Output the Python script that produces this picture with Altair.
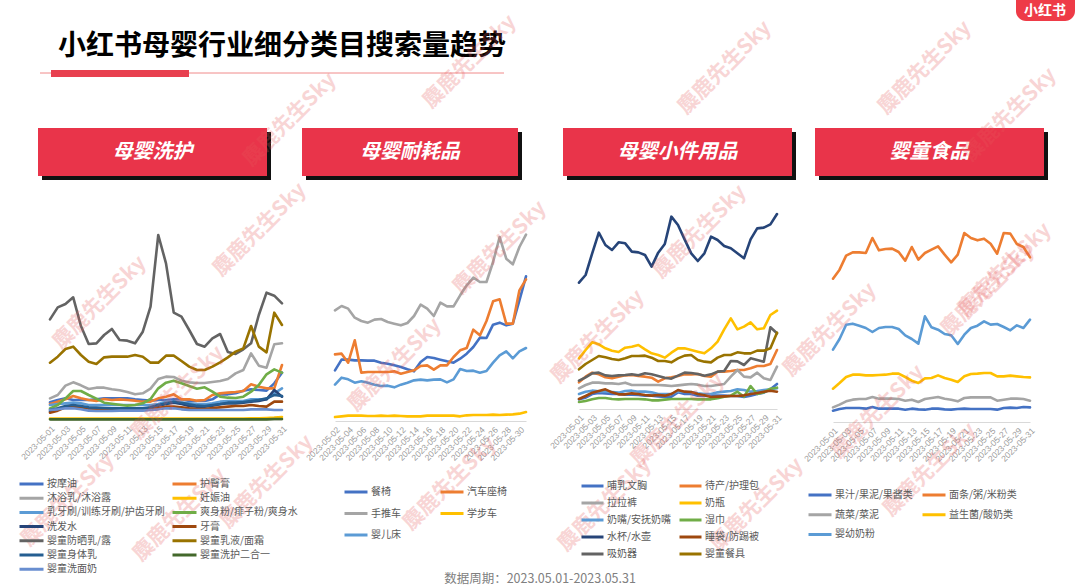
import altair as alt
import pandas as pd

# ---------------- data ----------------
days_all = [f"2023-05-{d:02d}" for d in range(1, 32)]
days_p2 = days_all[1:]
odd_labels = [f"2023-05-{d:02d}" for d in range(1, 32, 2)]
even_labels = [f"2023-05-{d:02d}" for d in range(2, 31, 2)]

# Panel 1: 母婴洗护
p1_names = ["按摩油", "护臀膏", "沐浴乳/沐浴露", "妊娠油", "乳牙刷/训练牙刷/护齿牙刷", "爽身粉/痱子粉/爽身水",
            "洗发水", "牙膏", "婴童防晒乳/露", "婴童乳液/面霜", "婴童身体乳", "婴童洗护二合一", "婴童洗面奶"]
p1_colors = ["#4472C4", "#ED7D31", "#A5A5A5", "#FFC000", "#5B9BD5", "#70AD47",
             "#264478", "#9E480E", "#636363", "#997300", "#255E91", "#43682B", "#698ED0"]
p1_anmoyou = [53, 60, 65, 60, 60, 60, 62, 65, 65, 65, 65, 62, 60, 58, 60, 60, 62, 62, 57, 57, 57, 62, 77, 77, 80, 88, 92, 90, 88, 110, 142]
p1_hutungao = [48, 55, 62, 72, 65, 60, 57, 63, 60, 62, 60, 58, 55, 55, 65, 70, 77, 62, 62, 58, 60, 75, 80, 82, 84, 87, 107, 100, 95, 95, 165]
p1_muyuru = [65, 75, 103, 113, 104, 93, 97, 97, 92, 89, 84, 77, 80, 94, 123, 130, 129, 118, 113, 111, 111, 114, 117, 123, 140, 150, 200, 163, 157, 227, 230]
p1_renshenyou = [4, 4, 4, 4, 4, 4, 4, 4, 4, 4, 4, 4, 4, 4, 4, 4, 4, 4, 4, 4, 4, 4, 4, 4, 4, 4, 5, 5, 6, 7, 9]
p1_yashua = [45, 48, 50, 52, 50, 45, 45, 45, 45, 45, 45, 45, 45, 45, 48, 55, 55, 52, 50, 48, 47, 50, 55, 57, 57, 57, 62, 62, 62, 80, 95]
p1_shuangshenfen = [35, 45, 65, 87, 87, 75, 64, 52, 49, 46, 43, 45, 50, 63, 95, 112, 118, 110, 102, 94, 98, 85, 70, 67, 66, 70, 85, 105, 137, 152, 142]
p1_xifashui = [25, 32, 40, 42, 40, 35, 35, 35, 33, 32, 32, 30, 30, 37, 43, 48, 52, 48, 42, 40, 40, 43, 47, 50, 50, 52, 55, 57, 62, 90, 70]
p1_yagao = [22, 28, 38, 40, 38, 35, 33, 32, 32, 32, 33, 32, 32, 33, 37, 40, 40, 38, 35, 33, 33, 36, 38, 40, 42, 42, 45, 42, 40, 55, 55]
p1_fangshai = [302, 338, 348, 368, 282, 228, 230, 255, 273, 240, 238, 230, 265, 340, 555, 470, 322, 310, 270, 228, 220, 245, 258, 204, 198, 212, 230, 315, 382, 373, 350]
p1_ruye = [172, 190, 213, 220, 195, 175, 168, 188, 190, 190, 190, 195, 190, 172, 172, 193, 193, 177, 160, 150, 150, 160, 173, 188, 205, 215, 282, 220, 203, 322, 285]
p1_shentiru = [30, 35, 42, 45, 42, 38, 37, 36, 35, 35, 35, 35, 35, 38, 45, 50, 55, 52, 47, 43, 42, 45, 48, 52, 52, 54, 57, 60, 65, 75, 72]
p1_erheyi = [2, 2, 2, 2, 2, 2, 2, 2, 2, 2, 2, 2, 2, 2, 2, 2, 2, 2, 2, 2, 2, 2, 2, 2, 2, 2, 2, 2, 2, 3, 3]
p1_ximiannai = [30, 32, 35, 35, 32, 28, 27, 27, 27, 28, 28, 28, 28, 30, 32, 35, 35, 32, 30, 30, 30, 30, 30, 30, 30, 30, 32, 32, 32, 30, 30]
p1_series = [p1_anmoyou, p1_hutungao, p1_muyuru, p1_renshenyou, p1_yashua, p1_shuangshenfen,
             p1_xifashui, p1_yagao, p1_fangshai, p1_ruye, p1_shentiru, p1_erheyi, p1_ximiannai]

# Panel 2: 母婴耐耗品
p2_names = ["餐椅", "汽车座椅", "手推车", "学步车", "婴儿床"]
p2_colors = ["#4472C4", "#ED7D31", "#A5A5A5", "#FFC000", "#5B9BD5"]
p2_canyi = [152, 184, 184, 182, 182, 181, 181, 175, 172, 167, 162, 155, 149, 177, 192, 189, 184, 179, 175, 187, 202, 222, 250, 249, 289, 295, 287, 292, 362, 434]
p2_qiche = [200, 202, 175, 242, 145, 147, 147, 147, 147, 149, 142, 147, 152, 165, 167, 154, 167, 167, 192, 212, 219, 274, 257, 300, 359, 365, 292, 292, 392, 425]
p2_shoutuiche = [332, 345, 337, 310, 300, 295, 304, 306, 297, 292, 287, 294, 315, 349, 337, 315, 355, 344, 344, 377, 407, 430, 417, 417, 477, 552, 487, 470, 522, 559]
p2_xuebuche = [12, 14, 16, 16, 16, 15, 15, 16, 15, 16, 15, 14, 14, 14, 16, 16, 16, 16, 16, 14, 17, 18, 18, 18, 19, 18, 19, 20, 22, 27]
p2_yingerchuang = [109, 130, 125, 115, 119, 115, 109, 105, 106, 101, 109, 115, 122, 124, 122, 124, 125, 116, 125, 156, 150, 151, 145, 150, 175, 197, 209, 188, 209, 219]
p2_series = [p2_canyi, p2_qiche, p2_shoutuiche, p2_xuebuche, p2_yingerchuang]

# Panel 3: 母婴小件用品
p3_names = ["哺乳文胸", "待产/护理包", "拉拉裤", "奶瓶", "奶嘴/安抚奶嘴", "湿巾", "水杯/水壶", "睡袋/防踢被", "吸奶器", "婴童餐具"]
p3_colors = ["#4472C4", "#ED7D31", "#A5A5A5", "#FFC000", "#5B9BD5", "#70AD47", "#264478", "#9E480E", "#636363", "#997300"]
p3_buru = [29, 34, 45, 48, 47, 45, 45, 43, 43, 42, 40, 40, 38, 36, 37, 50, 45, 45, 40, 39, 40, 40, 40, 39, 39, 36, 40, 45, 49, 59, 75]
p3_daichan = [80, 97, 109, 104, 95, 92, 97, 101, 102, 99, 97, 94, 82, 92, 95, 99, 104, 104, 105, 99, 97, 112, 112, 114, 117, 117, 122, 129, 129, 135, 177]
p3_lalaku = [62, 72, 79, 79, 77, 77, 75, 79, 72, 72, 72, 72, 72, 71, 69, 71, 73, 75, 73, 69, 69, 72, 75, 97, 117, 97, 95, 109, 92, 87, 127]
p3_naiping = [152, 177, 200, 194, 182, 175, 171, 184, 187, 192, 179, 167, 162, 154, 169, 182, 182, 177, 172, 167, 182, 202, 239, 272, 239, 247, 260, 239, 242, 282, 295]
p3_naizui = [45, 52, 55, 53, 53, 51, 49, 54, 55, 52, 52, 50, 45, 45, 45, 53, 51, 51, 47, 45, 45, 50, 52, 54, 59, 57, 52, 54, 57, 59, 62]
p3_shijin = [21, 24, 29, 33, 33, 30, 29, 30, 30, 30, 29, 26, 26, 28, 30, 30, 30, 30, 29, 29, 29, 32, 37, 40, 52, 37, 69, 45, 50, 61, 64]
p3_shuibei = [379, 402, 467, 529, 492, 477, 500, 497, 472, 470, 462, 427, 469, 495, 577, 552, 509, 467, 444, 467, 517, 507, 489, 482, 467, 452, 509, 542, 544, 554, 585]
p3_shuidai = [30, 39, 49, 54, 59, 50, 44, 44, 47, 45, 42, 40, 42, 40, 45, 57, 52, 51, 45, 41, 36, 37, 38, 39, 39, 41, 45, 48, 52, 55, 52]
p3_xinaiqi = [85, 95, 107, 109, 101, 99, 101, 102, 104, 101, 107, 104, 99, 94, 91, 100, 109, 108, 105, 100, 104, 112, 114, 144, 143, 132, 152, 147, 142, 245, 227]
p3_canju = [119, 135, 147, 159, 155, 150, 147, 152, 159, 159, 160, 154, 144, 144, 140, 152, 160, 162, 147, 142, 140, 154, 162, 162, 170, 167, 167, 175, 175, 182, 229]
p3_series = [p3_buru, p3_daichan, p3_lalaku, p3_naiping, p3_naizui, p3_shijin, p3_shuibei, p3_shuidai, p3_xinaiqi, p3_canju]

# Panel 4: 婴童食品
p4_names = ["果汁/果泥/果酱类", "面条/粥/米粉类", "蔬菜/菜泥", "益生菌/酸奶类", "婴幼奶粉"]
p4_colors = ["#4472C4", "#ED7D31", "#A5A5A5", "#FFC000", "#5B9BD5"]
p4_guozhi = [34, 39, 42, 42, 42, 40, 45, 40, 40, 40, 40, 37, 40, 38, 37, 40, 40, 38, 37, 39, 40, 39, 39, 39, 39, 37, 42, 43, 42, 45, 44]
p4_miantiao = [430, 457, 499, 509, 509, 507, 552, 515, 519, 520, 510, 484, 525, 487, 507, 517, 527, 502, 479, 502, 567, 552, 545, 550, 535, 505, 567, 565, 534, 525, 494]
p4_shucai = [44, 52, 62, 67, 69, 69, 75, 70, 70, 70, 69, 64, 67, 60, 69, 72, 75, 70, 67, 62, 72, 74, 74, 74, 74, 64, 67, 70, 70, 69, 64]
p4_yishengjun = [100, 117, 135, 142, 142, 140, 140, 141, 142, 145, 145, 135, 124, 117, 131, 132, 140, 132, 127, 120, 137, 144, 145, 147, 147, 137, 137, 139, 137, 135, 134]
p4_naifen = [217, 249, 292, 295, 289, 282, 270, 282, 285, 285, 279, 260, 249, 235, 317, 284, 277, 264, 260, 234, 262, 282, 289, 302, 292, 294, 285, 275, 290, 282, 307]
p4_series = [p4_guozhi, p4_miantiao, p4_shucai, p4_yishengjun, p4_naifen]

panel_titles = ["母婴洗护", "母婴耐耗品", "母婴小件用品", "婴童食品"]
main_title = "小红书母婴行业细分类目搜索量趋势"
source_text = "数据周期：2023.05.01-2023.05.31"
watermark_text = "麋鹿先生Sky"

FONT = "Noto Sans CJK SC"
RED = "#E9344A"


def long_df(names, series, days):
    rows = []
    for n, vals in zip(names, series):
        for d, v in zip(days, vals):
            rows.append({"date": d, "value": v, "series": n})
    return pd.DataFrame(rows)


def legend_order(names, colors):
    # legend fills column by column: arrange so the rows read like the original
    idx = list(range(0, len(names), 2)) + list(range(1, len(names), 2))
    return [names[i] for i in idx], [colors[i] for i in idx]


def panel(names, colors, series, days, xr, base, labels, lg):
    df = long_df(names, series, days)
    dom, rng = legend_order(names, colors)
    return alt.Chart(df).mark_line(strokeWidth=2.6, strokeJoin="round", strokeCap="round").encode(
        x=alt.X("date:O",
                scale=alt.Scale(type="point", range=xr, padding=0),
                axis=alt.Axis(orient="bottom", offset=base - 588, values=labels, title=None,
                              labelAngle=315, labelFontSize=8.5, labelColor="#9A9A9A",
                              labelFont="Liberation Sans", ticks=False, grid=False,
                              domainColor="#D9D9D9", domainWidth=1, labelPadding=4)),
        y=alt.Y("value:Q", scale=alt.Scale(domain=[0, 600], range=[base, base - 200]), axis=None),
        color=alt.Color("series:N", scale=alt.Scale(domain=dom, range=rng),
                        legend=alt.Legend(orient="none", legendX=lg[0], legendY=lg[1], title=None,
                                          columns=2, columnPadding=lg[2], rowPadding=lg[3],
                                          clipHeight=10, symbolType="stroke", symbolSize=lg[4],
                                          symbolStrokeWidth=3, labelFontSize=10, labelFont=FONT,
                                          labelColor="#595959", labelOffset=2, padding=0,
                                          symbolOffset=0, labelLimit=200)),
    )


one = pd.DataFrame({"a": [0]})

# decorations
title = alt.Chart(one).mark_text(text=main_title, font=FONT, fontSize=28, fontWeight="bold",
                                 color="#000000", align="left", baseline="middle").encode(
    x=alt.value(58), y=alt.value(47))
thin_line = alt.Chart(one).mark_rule(color="#F08A8A", strokeWidth=1).encode(
    x=alt.value(40), x2=alt.value(504), y=alt.value(73))
thick_bar = alt.Chart(one).mark_rect(color="#E8404F").encode(
    x=alt.value(51), x2=alt.value(189), y=alt.value(70), y2=alt.value(77))
logo = alt.Chart(one).mark_rect(color="#EE3B47", cornerRadius=10).encode(
    x=alt.value(1016), x2=alt.value(1075), y=alt.value(-12), y2=alt.value(21))
logo_t = alt.Chart(one).mark_text(text="小红书", font=FONT, fontSize=14, fontWeight="bold",
                                  color="white", align="center", baseline="middle").encode(
    x=alt.value(1045), y=alt.value(11))
source = alt.Chart(one).mark_text(text=source_text, font=FONT, fontSize=12.5, color="#808080",
                                  align="center", baseline="middle").encode(
    x=alt.value(540), y=alt.value(579))

boxes = [(38, 267), (302, 518), (563, 792), (815, 1044)]
headers = []
for (a, b), t in zip(boxes, panel_titles):
    headers.append(alt.Chart(one).mark_rect(color="#111111").encode(
        x=alt.value(a + 4), x2=alt.value(b + 4), y=alt.value(132), y2=alt.value(180)))
    headers.append(alt.Chart(one).mark_rect(color=RED).encode(
        x=alt.value(a), x2=alt.value(b), y=alt.value(128), y2=alt.value(176)))
    headers.append(alt.Chart(one).mark_text(text=t, font=FONT, fontSize=20, fontWeight="bold",
                                            fontStyle="italic", color="white", align="center",
                                            baseline="middle").encode(
        x=alt.value((a + b) / 2), y=alt.value(152)))

wm_x = [100, 178, 395, 500, 598, 700, 678, 878, 988, 470, 725, 925, 1010, 68, 180, 267, 450, 605, 757, 290, 830, 260, 930, 1005]
wm_y = [303, 393, 365, 248, 337, 232, 420, 412, 290, 62, 68, 68, 115, 500, 515, 482, 484, 505, 505, 120, 330, 230, 470, 270]
wm_df = pd.DataFrame({"wx": wm_x, "wy": wm_y})
watermark = alt.Chart(wm_df).mark_text(text=watermark_text, font=FONT, fontSize=21, fontWeight="bold",
                                       color="#E65A5A", opacity=0.25, angle=315,
                                       align="center", baseline="middle").encode(
    x=alt.X("wx:Q", scale=None), y=alt.Y("wy:Q", scale=None))

c1 = panel(p1_names, p1_colors, p1_series, days_all, [50, 282], 420, odd_labels, (18, 479, 6, 4.2, 576))
c2 = panel(p2_names, p2_colors, p2_series, days_p2, [335, 526], 421, even_labels, (343, 487, 38, 11.5, 529))
c3 = panel(p3_names, p3_colors, p3_series, days_all, [579, 777], 409, odd_labels, (580, 481, 7, 7, 484))
c4 = panel(p4_names, p4_colors, p4_series, days_all, [833, 1030], 422, odd_labels, (807, 490, 8, 9.7, 529))

chart = alt.layer(
    title, thin_line, thick_bar, logo, logo_t, source, *headers, c1, c2, c3, c4, watermark
).resolve_scale(x="independent", y="independent", color="independent").properties(
    width=1080, height=588, padding=0, autosize="none", background="white"
).configure_view(stroke=None)

chart.save("out.html", embed_options={"renderer": "svg", "actions": False})
